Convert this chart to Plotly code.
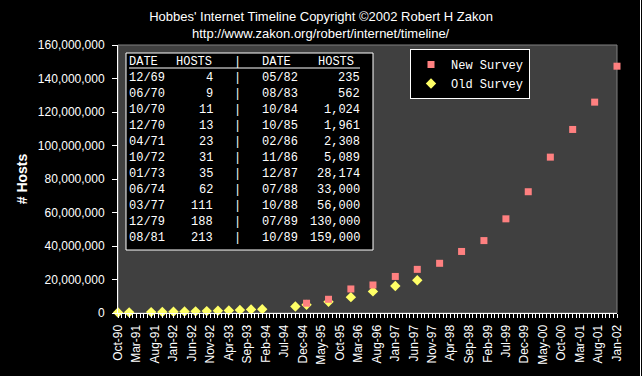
import plotly.graph_objects as go

# ---------------- data ----------------
old_dates = ["1990-10-01", "1991-01-01", "1991-07-01", "1991-10-01", "1992-01-01",
             "1992-04-01", "1992-07-01", "1992-10-01", "1993-01-01", "1993-04-01",
             "1993-07-01", "1993-10-01", "1994-01-01", "1994-10-01", "1995-01-01",
             "1995-07-01", "1996-01-01", "1996-07-01", "1997-01-01", "1997-07-01"]
old_hosts = [313000, 376000, 535000, 617000, 727000,
             890000, 992000, 1136000, 1313000, 1486000,
             1776000, 2056000, 2217000, 3864000, 4852000,
             6642000, 9472000, 12881000, 16146000, 19540000]

new_dates = ["1995-01-01", "1995-07-01", "1996-01-01", "1996-07-01", "1997-01-01",
             "1997-07-01", "1998-01-01", "1998-07-01", "1999-01-01", "1999-07-01",
             "2000-01-01", "2000-07-01", "2001-01-01", "2001-07-01", "2002-01-01"]
new_hosts = [5846000, 8200000, 14352000, 16729000, 21819000,
             26053000, 29670000, 36739000, 43230000, 56218000,
             72398092, 93047785, 109574429, 125888197, 147344723]

table_dates_left = ["12/69", "06/70", "10/70", "12/70", "04/71", "10/72",
                    "01/73", "06/74", "03/77", "12/79", "08/81"]
table_hosts_left = [4, 9, 11, 13, 23, 31, 35, 62, 111, 188, 213]
table_dates_right = ["05/82", "08/83", "10/84", "10/85", "02/86", "11/86",
                     "12/87", "07/88", "10/88", "07/89", "10/89"]
table_hosts_right = [235, 562, 1024, 1961, 2308, 5089,
                     28174, 33000, 56000, 130000, 159000]
table_header = ["DATE", "HOSTS", "|", "DATE", "HOSTS"]

title_line1 = "Hobbes' Internet Timeline Copyright ©2002 Robert H Zakon"
title_line2 = "http://www.zakon.org/robert/internet/timeline/"

# ---------------- layout helpers ----------------
W, H = 642, 376
L, R, T, B = 118, 617, 45, 313


def px(x):
    return (x - L) / (R - L)


def py(y):
    return (B - y) / (B - T)


SANS = "Arial, Liberation Sans, sans-serif"
MONO = "Courier New, Liberation Mono, monospace"

fig = go.Figure()

fig.add_trace(go.Scatter(
    x=old_dates, y=old_hosts, mode="markers", name="Old Survey",
    marker=dict(symbol="diamond", size=8, color="#FFFF66", line=dict(width=0)),
    cliponaxis=False, legendrank=2,
))
fig.add_trace(go.Scatter(
    x=new_dates, y=new_hosts, mode="markers", name="New Survey",
    marker=dict(symbol="square", size=7, color="#FF8080", line=dict(width=0)),
    cliponaxis=False, legendrank=1,
))

shapes = []
# plot area border (gray top/right)
shapes.append(dict(type="rect", xref="paper", yref="paper", x0=0, x1=1, y0=0, y1=1,
                   line=dict(color="#808080", width=1), layer="below"))
# table box
shapes.append(dict(type="rect", xref="paper", yref="paper",
                   x0=px(126), x1=px(373), y0=py(250), y1=py(53),
                   fillcolor="black", line=dict(color="white", width=1)))
# header underline
shapes.append(dict(type="line", xref="paper", yref="paper",
                   x0=px(129), x1=px(360), y0=py(68), y1=py(68),
                   line=dict(color="white", width=1)))
# right frame line of image
shapes.append(dict(type="line", xref="paper", yref="paper",
                   x0=px(640.5), x1=px(640.5), y0=py(0), y1=py(H),
                   line=dict(color="white", width=1)))

annotations = []


def cell(text, x, y, anchor):
    annotations.append(dict(
        text=text, xref="paper", yref="paper", x=px(x), y=py(y),
        xanchor=anchor, yanchor="middle", showarrow=False,
        font=dict(family=MONO, size=12, color="white"),
        borderpad=0, borderwidth=0,
    ))


# header row
hy = 61.5
cell(table_header[0], 129, hy, "left")
cell(table_header[1], 212, hy, "right")
cell(table_header[2], 237.5, hy, "center")
cell(table_header[3], 262, hy, "left")
cell(table_header[4], 318, hy, "left")

for i in range(len(table_dates_left)):
    ry = 77.7 + 16 * i
    cell(table_dates_left[i], 129, ry, "left")
    cell(f"{table_hosts_left[i]:,}", 213, ry, "right")
    cell("|", 237.5, ry, "center")
    cell(table_dates_right[i], 262, ry, "left")
    cell(f"{table_hosts_right[i]:,}", 360, ry, "right")

# second title line
annotations.append(dict(
    text=title_line2, xref="paper", yref="paper", x=px(321), y=py(34),
    xanchor="center", yanchor="middle", showarrow=False,
    font=dict(family=SANS, size=13, color="white"),
))

fig.update_layout(
    width=W, height=H,
    margin=dict(l=L, r=W - R, t=T, b=H - B, pad=0, autoexpand=False),
    paper_bgcolor="black",
    plot_bgcolor="#404040",
    font=dict(family=SANS, size=11, color="white"),
    title=dict(text=title_line1, x=0.5, xanchor="center", xref="container",
               y=1 - 16 / H, yanchor="middle", yref="container",
               font=dict(family=SANS, size=13, color="white")),
    showlegend=True,
    legend=dict(x=px(410), y=py(49), xanchor="left", yanchor="top",
                xref="paper", yref="paper",
                bgcolor="black", bordercolor="white", borderwidth=1,
                font=dict(family=MONO, size=12, color="white"),
                tracegroupgap=0, itemclick=False),
    shapes=shapes,
    annotations=annotations,
)

fig.update_xaxes(
    type="date", range=["1990-10-01", "2002-01-01"],
    tick0="1990-10-01", dtick="M5", tickformat="%b-%y", tickangle=-90,
    ticks="outside", ticklen=4, tickcolor="white", tickwidth=1,
    minor=dict(dtick="M1", ticks="outside", ticklen=4, tickcolor="white", tickwidth=1, showgrid=False),
    showline=True, linecolor="white", linewidth=1,
    showgrid=False, zeroline=False, automargin=False,
    tickfont=dict(family=SANS, size=12, color="white"),
    ticklabelstandoff=2,
    fixedrange=True,
)
fig.update_yaxes(
    range=[0, 160000000], dtick=20000000, tick0=0, tickformat=",d",
    ticks="outside", ticklen=5, tickcolor="white", tickwidth=1,
    showline=True, linecolor="white", linewidth=1,
    showgrid=False, zeroline=False, automargin=False,
    tickfont=dict(family=SANS, size=12, color="white"),
    ticklabelstandoff=5,
    title=dict(text="<b># Hosts</b>", font=dict(family=SANS, size=14, color="white"), standoff=6),
    fixedrange=True,
)

fig.write_html(
    "out.html",
    config={"displayModeBar": False},
    post_script="document.body.style.margin='0';document.body.style.background='black';",
)
